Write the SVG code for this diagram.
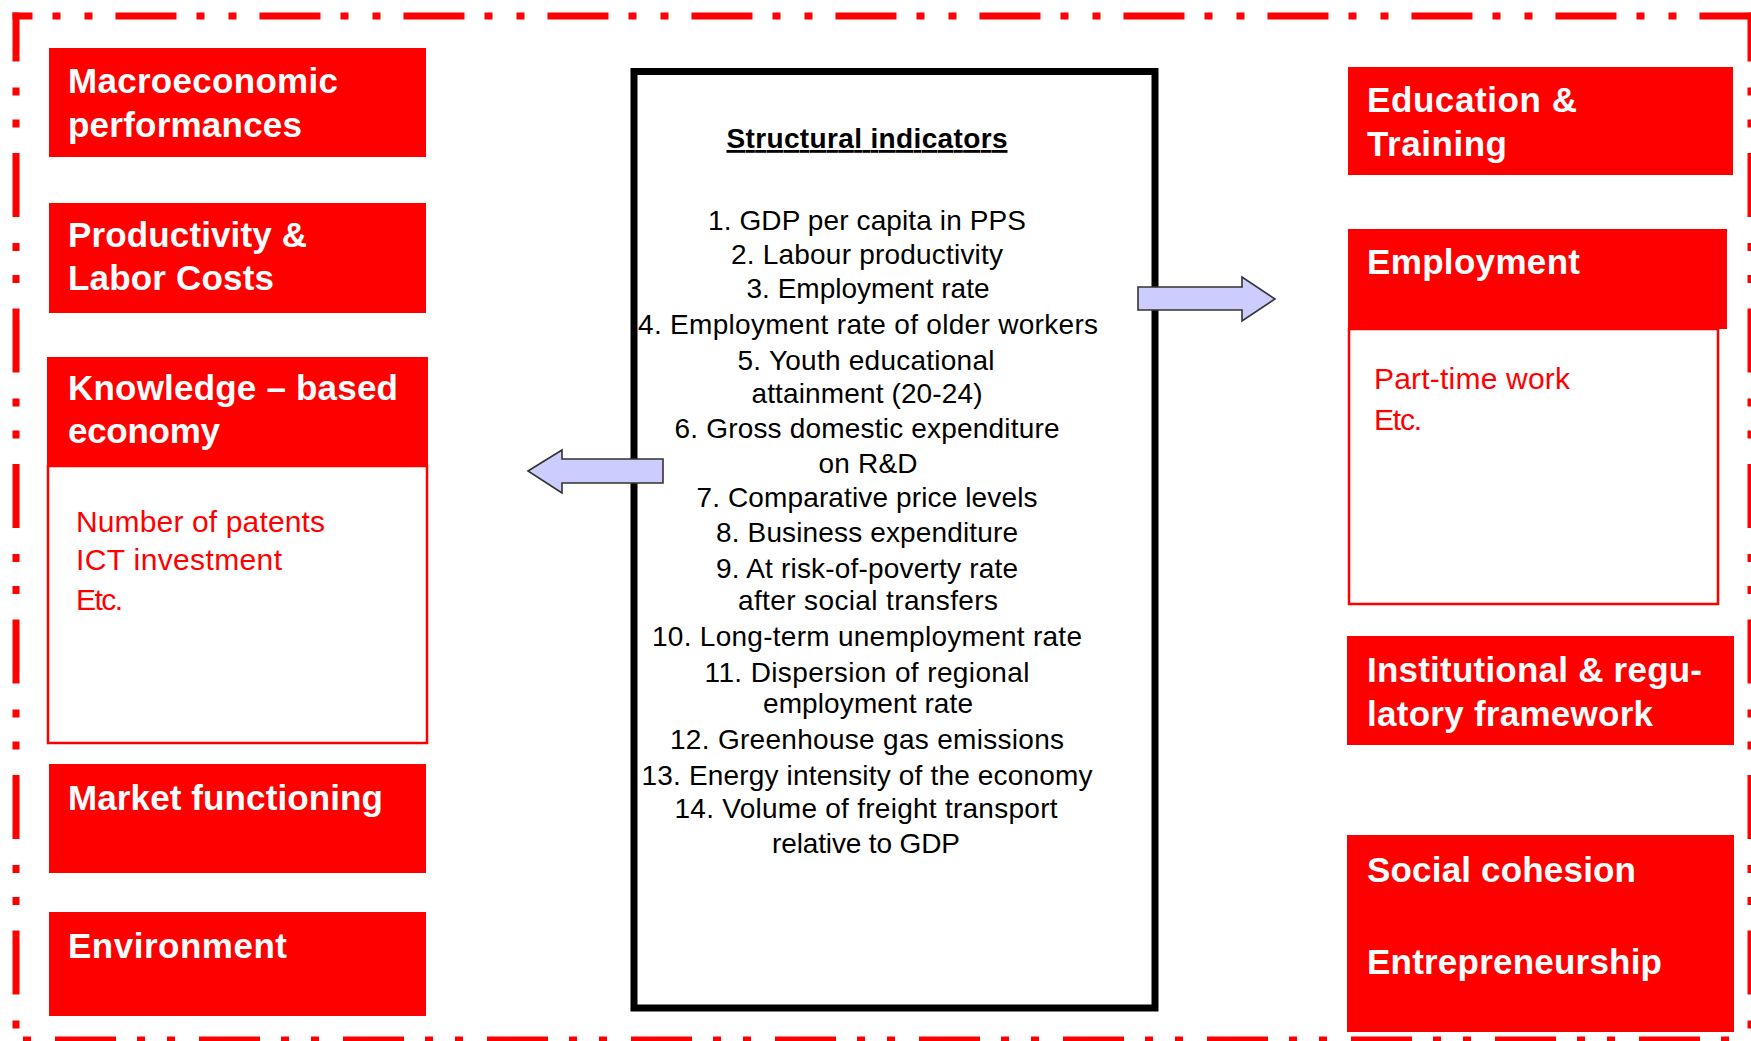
<svg xmlns="http://www.w3.org/2000/svg" width="1751" height="1041" viewBox="0 0 1751 1041">
<style>
.frame{fill:none;stroke:#ff0000;stroke-width:7}
.hdr{fill:#ff0000}
.body{fill:#ffffff;stroke:#ff0000;stroke-width:2.5}
.htx{font-family:"Liberation Sans",Arial,sans-serif;font-weight:bold;font-size:35px;fill:#ffffff}
.sub{font-family:"Liberation Sans",Arial,sans-serif;font-size:30px;fill:#ff0000}
.list{font-family:"Liberation Sans",Arial,sans-serif;font-size:28px;fill:#000000;text-anchor:middle}
.title{font-family:"Liberation Sans",Arial,sans-serif;font-size:28px;font-weight:bold;fill:#000000;text-anchor:middle;text-decoration:underline}
.arrow{fill:#ccccff;stroke:#333333;stroke-width:1.6;stroke-linejoin:miter}
</style>
<rect width="1751" height="1041" fill="#ffffff"/>
<g id="frame">
<line class="frame" x1="12.5" y1="16" x2="1751" y2="16" stroke-dasharray="61 20 8 24 8 23" stroke-dashoffset="41"/>
<line class="frame" x1="16" y1="12.5" x2="16" y2="1041" stroke-dasharray="64 26 8 24 8 25.5" stroke-dashoffset="15"/>
<line class="frame" x1="12.5" y1="1040" x2="1751" y2="1040" stroke-dasharray="61 21 8 22 8 24" stroke-dashoffset="101.5"/>
<line class="frame" x1="1751" y1="12.5" x2="1751" y2="1041" stroke-dasharray="64 26 8 24 8 25.5" stroke-dashoffset="15"/>
</g>
<g id="macro">
<rect class="hdr" x="49" y="48" width="377" height="109"/>
<text class="htx" x="68" y="93" textLength="270">Macroeconomic</text>
<text class="htx" x="68" y="137" textLength="234">performances</text>
</g>
<g id="productivity">
<rect class="hdr" x="49" y="203" width="377" height="110"/>
<text class="htx" x="68" y="247" textLength="239">Productivity &amp;</text>
<text class="htx" x="68" y="290" textLength="206">Labor Costs</text>
</g>
<g id="knowledge">
<rect class="body" x="48" y="466" width="379" height="277"/>
<rect class="hdr" x="47" y="357" width="381" height="109"/>
<text class="htx" x="68" y="400" textLength="330">Knowledge – based</text>
<text class="htx" x="68" y="443" textLength="152">economy</text>
<text class="sub" x="76" y="532" textLength="249">Number of patents</text>
<text class="sub" x="76" y="570" textLength="206">ICT investment</text>
<text class="sub" x="76" y="610" textLength="47">Etc.</text>
</g>
<g id="market">
<rect class="hdr" x="49" y="764" width="377" height="109"/>
<text class="htx" x="68" y="810" textLength="315">Market functioning</text>
</g>
<g id="environment">
<rect class="hdr" x="49" y="912" width="377" height="104"/>
<text class="htx" x="68" y="958" textLength="219">Environment</text>
</g>
<g id="structural">
<rect x="634" y="71.5" width="521" height="936.5" fill="#ffffff" stroke="#000000" stroke-width="7"/>
<text class="title" x="867" y="148" textLength="281">Structural indicators</text>
<text class="list" x="867" y="230" textLength="318">1. GDP per capita in PPS</text>
<text class="list" x="867" y="264" textLength="272">2. Labour productivity</text>
<text class="list" x="868" y="298" textLength="243">3. Employment rate</text>
<text class="list" x="868" y="334" textLength="460">4. Employment rate of older workers</text>
<text class="list" x="866" y="370" textLength="257">5. Youth educational</text>
<text class="list" x="867" y="403" textLength="231">attainment (20-24)</text>
<text class="list" x="867" y="438" textLength="385">6. Gross domestic expenditure</text>
<text class="list" x="868" y="473" textLength="99">on R&amp;D</text>
<text class="list" x="867" y="507" textLength="341">7. Comparative price levels</text>
<text class="list" x="867" y="542" textLength="302">8. Business expenditure</text>
<text class="list" x="867" y="578" textLength="302">9. At risk-of-poverty rate</text>
<text class="list" x="868" y="610" textLength="260">after social transfers</text>
<text class="list" x="867" y="646" textLength="430">10. Long-term unemployment rate</text>
<text class="list" x="867" y="682" textLength="325">11. Dispersion of regional</text>
<text class="list" x="868" y="713" textLength="210">employment rate</text>
<text class="list" x="867" y="749" textLength="394">12. Greenhouse gas emissions</text>
<text class="list" x="867" y="785" textLength="451">13. Energy intensity of the economy</text>
<text class="list" x="866" y="818" textLength="383">14. Volume of freight transport</text>
<text class="list" x="866" y="853" textLength="188">relative to GDP</text>
</g>
<g id="education">
<rect class="hdr" x="1348" y="67" width="385" height="108"/>
<text class="htx" x="1367" y="112" textLength="210">Education &amp;</text>
<text class="htx" x="1367" y="156" textLength="140">Training</text>
</g>
<g id="employment">
<rect class="body" x="1349" y="329" width="369" height="275"/>
<rect class="hdr" x="1348" y="229" width="379" height="100"/>
<text class="htx" x="1367" y="274" textLength="213">Employment</text>
<text class="sub" x="1374" y="389" textLength="196">Part-time work</text>
<text class="sub" x="1374" y="430" textLength="48">Etc.</text>
</g>
<g id="institutional">
<rect class="hdr" x="1347" y="636" width="387" height="109"/>
<text class="htx" x="1367" y="682" textLength="335">Institutional &amp; regu-</text>
<text class="htx" x="1367" y="726" textLength="286">latory framework</text>
</g>
<g id="social">
<rect class="hdr" x="1347" y="835" width="387" height="197"/>
<text class="htx" x="1367" y="882" textLength="269">Social cohesion</text>
<text class="htx" x="1367" y="974" textLength="295">Entrepreneurship</text>
</g>
<g id="connectors">
<polygon class="arrow" points="528,471 562,450 562,459 663,459 663,483 562,483 562,493"/>
<polygon class="arrow" points="1138,287 1242,287 1242,277 1275,299 1242,321 1242,310 1138,310"/>
</g>
</svg>
